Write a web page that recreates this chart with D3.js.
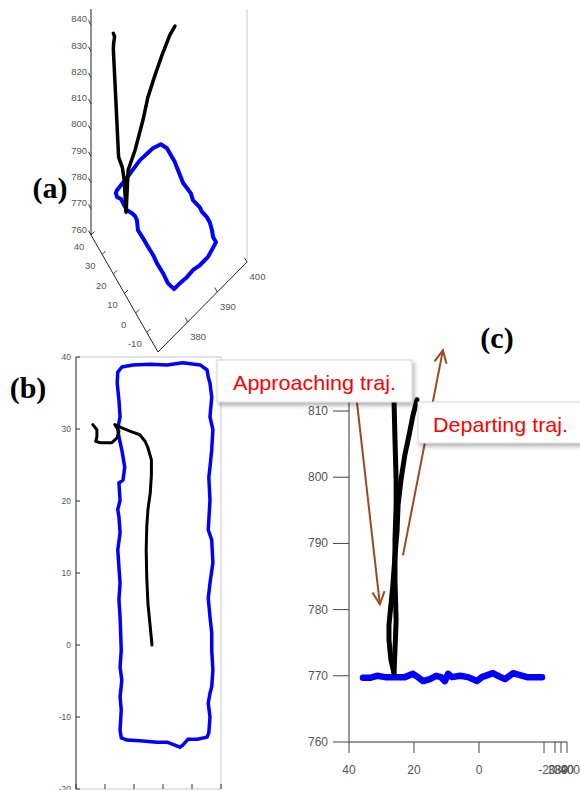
<!DOCTYPE html>
<html><head><meta charset="utf-8">
<script src="https://cdn.jsdelivr.net/npm/d3@7/dist/d3.min.js"></script>
<style>body{margin:0;background:#fff}svg{display:block}</style>
</head><body>
<script>
// ---------------- Panel (a): 3D view ----------------
const aXDomain = [370, 400], aYDomain = [-20, 40], aZDomain = [760, 846];
const aTicksX = [380, 390, 400];
const aTicksY = [-10, 0, 10, 20, 30, 40];
const aTicksZ = [760, 770, 780, 790, 800, 810, 820, 830, 840];
const aRectX = [377.8,380.8,386.4,390.6,392.8,393.6,393.6,393.6,393.4,393.1,392.8,393.0,393.2,392.8,393.4,393.3,393.7,393.7,393.2,392.6,392.6,391.2,389.0,386.4,384.3,382.1,379.9,377.9,377.3,377.5,377.4,377.6,377.5,377.5,377.4,378.4,378.5,378.2,377.5,377.5,377.6,377.0,377.2,377.8];
const aRectY = [37.5,38.1,39.7,39.3,38.0,34.7,31.2,27.6,25.3,21.7,18.1,15.2,12.2,9.3,4.7,2.5,-0.8,-3.4,-6.7,-9.3,-11.9,-12.8,-14.1,-14.1,-13.4,-13.7,-13.4,-13.4,-9.4,-4.6,0.7,4.6,9.8,13.4,17.6,21.2,23.2,25.1,27.7,30.3,33.3,35.2,36.9,37.5];
const aRectZ = 770;
const aAppX = [375.0,375.5,375.1,375.0,375.5,376.1,376.6,376.9,377.1,377.1];
const aAppY = [33.3,33.5,33.3,33.3,32.4,31.5,29.5,28.6,28.1,27.4];
const aAppZ = [836,834,832,830,811,789,786,781.5,774,770];
const aDepX = [377.1,377.7,379.3,381.1,382.3,383.9,385.5,387.3,388.4];
const aDepY = [27.4,27.2,25.2,23.0,21.7,19.6,17.6,15.3,13.7];
const aDepZ = [770,785.4,792.7,803.6,812,820.1,827.4,834.7,838];

// ---------------- Panel (b): top view ----------------
const bXDomain = [370, 395], bYDomain = [-20, 40];
const bTicksX = [370, 375, 380, 385, 390, 395];
const bTicksY = [-20, -10, 0, 10, 20, 30, 40];
const bRectX = [377.2,377.9,379.8,382.8,385.7,388.4,391.4,392.6,392.8,393.1,393.4,393.1,393.6,393.4,393.1,392.9,393.1,392.8,393.4,393.6,393.1,392.8,393.1,393.4,393.4,393.6,393.4,393.1,392.8,393.1,392.9,392.6,390.9,389.3,388.4,387.9,386.7,385.7,384.0,381.0,378.8,377.8,377.6,377.8,377.6,377.9,377.6,377.8,377.6,377.4,377.6,377.4,377.2,377.6,377.4,377.2,377.6,377.4,378.1,378.4,377.9,377.4,377.2,377.6,377.4,377.1,377.2];
const bRectY = [37.9,38.6,38.9,39.0,38.9,39.2,38.9,38.2,37.2,36.4,34.4,31.7,29.9,27.1,24.7,23.3,20.1,16.0,14.6,11.4,8.6,6.5,3.9,1.7,-0.7,-3.5,-5.8,-6.7,-8.1,-10.0,-12.2,-12.8,-13.1,-13.1,-13.9,-14.2,-13.8,-13.5,-13.5,-13.3,-13.2,-12.9,-11.8,-9.0,-7.2,-4.9,-3.1,-0.7,3.9,6.3,8.6,10.8,13.2,15.6,17.8,18.8,20.1,22.5,22.9,24.7,27.1,28.9,30.1,31.7,34.0,36.4,37.9];
const bTrajX = [383.1,382.8,382.4,382.2,382.1,382.2,382.4,382.8,383.0,383.0,382.4,381.9,381.0,379.3,378.1,376.7,377.4,377.1,376.2,374.1,373.4,373.6,373.6,372.9];
const bTrajY = [0,2.5,5.8,9.4,13.2,16.4,18.8,21.1,23.6,25.7,27.4,28.3,29.2,29.7,30.1,30.6,29.7,28.8,28.1,28.1,28.3,28.9,29.9,30.6];

// ---------------- Panel (c): side view ----------------
const cYDomain = [40, -20], cZDomain = [760, 812], cXDomain = [380, 400];
const cTicksY = [40, 20, 0, -20];
const cTicksX = [380, 390, 400];
const cTicksZ = [760, 770, 780, 790, 800, 810];
const cBlueY = [35.7,33.5,31.4,28.9,25.8,22.8,20.3,18.8,17.2,15.1,13.2,11.7,10.5,9.5,8.3,5.8,3.4,0.6,-0.9,-4.3,-5.8,-8.0,-10.5,-12.6,-14.8,-17.2,-19.4];
const cBlueZ = [769.7,769.7,770.0,769.8,769.8,769.8,770.3,769.8,769.2,769.5,770.0,769.8,769.2,770.3,769.8,770.0,769.8,769.2,769.8,770.4,770.0,769.5,770.4,770.1,769.8,769.8,769.8];
const cAppY = [26.15,25.85,25.5,25.5,25.85,25.85,25.5,25.85,26.15];
const cAppZ = [811.7,805.6,799.6,795.8,790.5,784.5,778.4,773.9,770.4];
const cDepY = [26.15,27.1,27.7,27.7,27.1,26.5,25.85,25.2,24.9,24.0,22.8,21.5,20.3,19.1];
const cDepZ = [770.4,772.4,775.4,777.7,780.7,783.7,788.2,792.0,795.8,799.6,803.4,806.4,809.4,811.7];
// annotation arrows (tail -> head) in panel (c) data units
const arrowTailY = [37.8, 23.4], arrowTailZ = [812.4, 788.2];
const arrowHeadY = [30.5, 11.1], arrowHeadZ = [780.8, 819.2];
const labels = ["Approaching traj.", "Departing traj."];

const W = 580, H = 790;
const svg = d3.select("body").append("svg").attr("width", W).attr("height", H)
  .style("font-family", "'Liberation Sans', Arial, sans-serif");
const defs = svg.append("defs");
const flt = defs.append("filter").attr("id", "shadow").attr("x", "-10%").attr("y", "-30%").attr("width", "130%").attr("height", "170%");
flt.append("feDropShadow").attr("dx", 2).attr("dy", 3).attr("stdDeviation", 2).attr("flood-color", "#000").attr("flood-opacity", 0.3);

const line = d3.line().curve(d3.curveLinear);

// ===== Panel (a) =====
const gA = svg.append("g");
const A0 = [158, 352], AVX = [89, -90], AVY = [-67, -117], AVZ = [0, -226];
const tx = d3.scaleLinear().domain(aXDomain).range([0, 1]);
const ty = d3.scaleLinear().domain(aYDomain).range([0, 1]);
const tz = d3.scaleLinear().domain(aZDomain).range([0, 1]);
function projA(x, y, z) {
  const a = tx(x), b = ty(y), c = tz(z);
  return [A0[0] + a * AVX[0] + b * AVY[0] + c * AVZ[0], A0[1] + a * AVX[1] + b * AVY[1] + c * AVZ[1]];
}
const norm = v => { const l = Math.hypot(v[0], v[1]); return [v[0] / l, v[1] / l]; };
const uX = norm(AVX), uY = norm(AVY);
const cornerA = projA(aXDomain[0], aYDomain[1], aZDomain[0]);
const topA = projA(aXDomain[0], aYDomain[1], aZDomain[1]);
const cornerB = projA(aXDomain[0], aYDomain[0], aZDomain[0]);
const cornerC = projA(aXDomain[1], aYDomain[0], aZDomain[0]);
gA.append("line").attr("x1", cornerC[0]).attr("y1", cornerC[1]).attr("x2", cornerC[0]).attr("y2", topA[1])
  .attr("stroke", "#c8c8c8").attr("stroke-width", 1);
gA.append("path").attr("d", line([topA, cornerA, cornerB, cornerC])).attr("fill", "none").attr("stroke", "#222").attr("stroke-width", 1);
aTicksZ.forEach(v => {
  const p = projA(aXDomain[0], aYDomain[1], v);
  gA.append("line").attr("x1", p[0]).attr("y1", p[1]).attr("x2", p[0] + uY[0] * 5).attr("y2", p[1] + uY[1] * 5).attr("stroke", "#333");
  gA.append("text").attr("x", p[0] - 4).attr("y", p[1] - 2.5).attr("text-anchor", "end").attr("font-size", 9.5).attr("fill", "#555").text(v);
});
aTicksY.forEach(v => {
  const p = projA(aXDomain[0], v, aZDomain[0]);
  gA.append("line").attr("x1", p[0]).attr("y1", p[1]).attr("x2", p[0] + uX[0] * 5).attr("y2", p[1] + uX[1] * 5).attr("stroke", "#333");
  gA.append("text").attr("x", p[0] - 12).attr("y", p[1] + 14.5).attr("text-anchor", "middle").attr("font-size", 9.5).attr("fill", "#555").text(v);
});
aTicksX.forEach(v => {
  const p = projA(v, aYDomain[0], aZDomain[0]);
  gA.append("line").attr("x1", p[0]).attr("y1", p[1]).attr("x2", p[0] + uY[0] * 5).attr("y2", p[1] + uY[1] * 5).attr("stroke", "#333");
  gA.append("text").attr("x", p[0] + 10.5).attr("y", p[1] + 18).attr("text-anchor", "middle").attr("font-size", 9.5).attr("fill", "#555").text(v);
});
const aRect = aRectX.map((x, i) => projA(x, aRectY[i], aRectZ));
const aApp = aAppX.map((x, i) => projA(x, aAppY[i], aAppZ[i]));
const aDep = aDepX.map((x, i) => projA(x, aDepY[i], aDepZ[i]));
gA.append("path").attr("d", line(aRect)).attr("fill", "none").attr("stroke", "#0000ff").attr("stroke-width", 4).attr("stroke-linejoin", "round").attr("stroke-linecap", "round");
[aApp, aDep].forEach(pts => gA.append("path").attr("d", line(pts)).attr("fill", "none").attr("stroke", "#000").attr("stroke-width", 3.5).attr("stroke-linejoin", "round").attr("stroke-linecap", "round"));
gA.append("text").attr("x", 50).attr("y", 198).attr("text-anchor", "middle").attr("font-family", "'Liberation Serif','Times New Roman',serif").attr("font-weight", "bold").attr("font-size", 30).text("(a)");

// ===== Panel (b) =====
const gB = svg.append("g");
const xB = d3.scaleLinear().domain(bXDomain).range([76, 221]);
const yB = d3.scaleLinear().domain(bYDomain).range([789, 357]);
gB.append("path").attr("d", line([[xB(bXDomain[0]), yB(bYDomain[1])], [xB(bXDomain[1]), yB(bYDomain[1])], [xB(bXDomain[1]), yB(bYDomain[0])], [xB(bXDomain[0]), yB(bYDomain[0])]]))
  .attr("fill", "none").attr("stroke", "#c8c8c8").attr("stroke-width", 1);
gB.append("line").attr("x1", xB(bXDomain[0])).attr("x2", xB(bXDomain[0])).attr("y1", yB(bYDomain[1])).attr("y2", yB(bYDomain[0])).attr("stroke", "#222").attr("stroke-width", 1);
bTicksY.forEach(v => {
  gB.append("line").attr("x1", xB(bXDomain[0])).attr("x2", xB(bXDomain[0]) + 4).attr("y1", yB(v)).attr("y2", yB(v)).attr("stroke", "#333");
  gB.append("text").attr("x", xB(bXDomain[0]) - 5).attr("y", yB(v) + 3).attr("text-anchor", "end").attr("font-size", 8.5).attr("fill", "#555").text(v);
});
bTicksX.forEach(v => {
  gB.append("line").attr("x1", xB(v)).attr("x2", xB(v)).attr("y1", yB(bYDomain[0])).attr("y2", yB(bYDomain[0]) - 5).attr("stroke", "#333");
});
gB.append("path").attr("d", line(bRectX.map((x, i) => [xB(x), yB(bRectY[i])]))).attr("fill", "none").attr("stroke", "#0000ff").attr("stroke-width", 3.5).attr("stroke-linejoin", "round").attr("stroke-linecap", "round");
gB.append("path").attr("d", line(bTrajX.map((x, i) => [xB(x), yB(bTrajY[i])]))).attr("fill", "none").attr("stroke", "#000").attr("stroke-width", 3).attr("stroke-linejoin", "round").attr("stroke-linecap", "round");
gB.append("text").attr("x", 28).attr("y", 398).attr("text-anchor", "middle").attr("font-family", "'Liberation Serif','Times New Roman',serif").attr("font-weight", "bold").attr("font-size", 30).text("(b)");

// ===== Panel (c) =====
const gC = svg.append("g");
const yC = d3.scaleLinear().domain(cYDomain).range([349, 544]);
const zC = d3.scaleLinear().domain(cZDomain).range([742, 397.8]);
const xC = d3.scaleLinear().domain(cXDomain).range([555, 567]);
gC.append("line").attr("x1", 349).attr("x2", 349).attr("y1", zC(cZDomain[1])).attr("y2", zC(cZDomain[0])).attr("stroke", "#333");
gC.append("line").attr("x1", yC(cYDomain[0])).attr("x2", xC(cXDomain[1])).attr("y1", zC(cZDomain[0])).attr("y2", zC(cZDomain[0])).attr("stroke", "#333");
cTicksZ.forEach(v => {
  gC.append("line").attr("x1", 333).attr("x2", 349).attr("y1", zC(v)).attr("y2", zC(v)).attr("stroke", "#444");
  gC.append("text").attr("x", 328).attr("y", zC(v) + 4).attr("text-anchor", "end").attr("font-size", 12).attr("fill", "#555").text(v);
});
cTicksY.forEach(v => {
  gC.append("line").attr("x1", yC(v)).attr("x2", yC(v)).attr("y1", 742).attr("y2", 753).attr("stroke", "#444");
  gC.append("text").attr("x", yC(v) + (v < 0 ? 3 : 0)).attr("y", 774).attr("text-anchor", "middle").attr("font-size", 12).attr("fill", "#555").text(v);
});
cTicksX.forEach(v => {
  gC.append("line").attr("x1", xC(v)).attr("x2", xC(v)).attr("y1", 742).attr("y2", 753).attr("stroke", "#444");
  gC.append("text").attr("x", xC(v) + 3).attr("y", 774).attr("text-anchor", "middle").attr("font-size", 12).attr("fill", "#555").text(v);
});
gC.append("path").attr("d", line(cBlueY.map((y, i) => [yC(y), zC(cBlueZ[i])]))).attr("fill", "none").attr("stroke", "#0000ff").attr("stroke-width", 6.5).attr("stroke-linejoin", "round").attr("stroke-linecap", "round");
[[cAppY, cAppZ], [cDepY, cDepZ]].forEach(([ys, zs]) => gC.append("path").attr("d", line(ys.map((y, i) => [yC(y), zC(zs[i])]))).attr("fill", "none").attr("stroke", "#000").attr("stroke-width", 5).attr("stroke-linejoin", "round").attr("stroke-linecap", "round"));
gC.append("text").attr("x", 497).attr("y", 348).attr("text-anchor", "middle").attr("font-family", "'Liberation Serif','Times New Roman',serif").attr("font-weight", "bold").attr("font-size", 30).text("(c)");

// arrows
const arrowCol = "#9b4a1e";
arrowTailY.forEach((ty0, i) => {
  const t = [yC(ty0), zC(arrowTailZ[i])], h = [yC(arrowHeadY[i]), zC(arrowHeadZ[i])];
  const ang = Math.atan2(t[1] - h[1], t[0] - h[0]);
  const L = 14, sp = 0.45;
  gC.append("line").attr("x1", t[0]).attr("y1", t[1]).attr("x2", h[0]).attr("y2", h[1]).attr("stroke", arrowCol).attr("stroke-width", 2);
  gC.append("path").attr("d", line([[h[0] + L * Math.cos(ang + sp), h[1] + L * Math.sin(ang + sp)], h, [h[0] + L * Math.cos(ang - sp), h[1] + L * Math.sin(ang - sp)]]))
    .attr("fill", "none").attr("stroke", arrowCol).attr("stroke-width", 2).attr("stroke-linejoin", "miter");
});

// label boxes
const boxes = [{x: 217, y: 360, w: 195, h: 42, tx: 233, ty: 390, tl: 163}, {x: 418, y: 402, w: 166, h: 41, tx: 433, ty: 432, tl: 135}];
boxes.forEach((b, i) => {
  svg.append("rect").attr("x", b.x).attr("y", b.y).attr("width", b.w).attr("height", b.h).attr("fill", "#fff").attr("stroke", "#d6d6d6").attr("filter", "url(#shadow)");
  svg.append("text").attr("x", b.tx).attr("y", b.ty).attr("font-size", 21).attr("fill", "#ff0000").attr("textLength", b.tl).attr("lengthAdjust", "spacingAndGlyphs").text(labels[i]);
});
</script>
</body></html>
